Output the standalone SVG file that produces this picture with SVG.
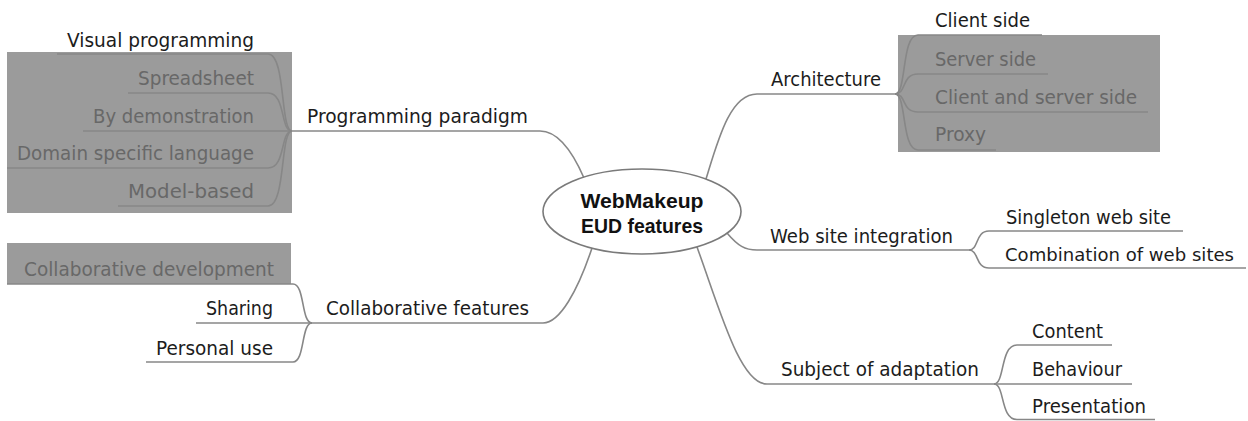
<svg xmlns="http://www.w3.org/2000/svg" width="1248" height="421" viewBox="0 0 1248 421">
<style>
.lbl{font-family:"DejaVu Sans","Liberation Sans",sans-serif;font-size:20px;fill:#1c1c1c}
.dim{fill:#686868}
.box{fill:#9b9b9b}
.ln{fill:none;stroke:#878787;stroke-width:1.6}
.root{font-family:"Liberation Sans",Arial,sans-serif;font-size:21px;font-weight:bold;fill:#111}
</style>
<rect width="1248" height="421" fill="#fff"/>
<g id="folds">
<rect class="box" x="7" y="52" width="285" height="161"/>
<rect class="box" x="898" y="35" width="262" height="117"/>
<rect class="box" x="7" y="243" width="284" height="41"/>
</g>
<g id="connectors">
<path class="ln" d="M584 178 C574 155 560 131 540 131"/>
<path class="ln" d="M706 179 C718 140 730 94 757 94"/>
<path class="ln" d="M727 233 C738 246 745 250 757 250"/>
<path class="ln" d="M697 247 C720 310 740 384 767 384"/>
<path class="ln" d="M592 248 C578 290 560 323 543 323"/>
<path class="ln" d="M292 131 C280 131 286 54 268 54"/>
<path class="ln" d="M292 131 C280 131 286 93 268 93"/>
<path class="ln" d="M292 131 C280 131 286 168 268 168"/>
<path class="ln" d="M292 131 C280 131 286 206 268 206"/>
<path class="ln" d="M895 94 C907 94 901 35 918 35"/>
<path class="ln" d="M895 94 C907 94 901 74 918 74"/>
<path class="ln" d="M895 94 C907 94 901 112 918 112"/>
<path class="ln" d="M895 94 C907 94 901 150 918 150"/>
<path class="ln" d="M969 250 C979 250 975 231 989 231"/>
<path class="ln" d="M969 250 C979 250 975 268 989 268"/>
<path class="ln" d="M994 384 C1005 384 1000 345 1017 345"/>
<path class="ln" d="M994 384 C1005 384 1000 419.5 1017 419.5"/>
<path class="ln" d="M312 323 C301 323 305 284 293 284"/>
<path class="ln" d="M312 323 C301 323 305 362 293 362"/>
</g>
<g id="root">
<ellipse cx="642" cy="211.5" rx="99" ry="42.5" fill="#fff" stroke="#7a7a7a" stroke-width="1.6"/>
<text class="root" x="642" y="208" text-anchor="middle" textLength="123" lengthAdjust="spacingAndGlyphs">WebMakeup</text>
<text class="root" x="642" y="233" text-anchor="middle" textLength="122" lengthAdjust="spacingAndGlyphs">EUD features</text>
</g>
<g id="programming-paradigm">
<path class="ln" d="M292 131 H540"/>
<text class="lbl" x="307" y="123" textLength="221" lengthAdjust="spacingAndGlyphs">Programming paradigm</text>
</g>
<g id="visual-programming">
<path class="ln" d="M57 54 H268"/>
<text class="lbl" x="67" y="47" textLength="187" lengthAdjust="spacingAndGlyphs">Visual programming</text>
</g>
<g id="spreadsheet">
<path class="ln" d="M128 93 H268"/>
<text class="lbl dim" x="138" y="85" textLength="116" lengthAdjust="spacingAndGlyphs">Spreadsheet</text>
</g>
<g id="by-demonstration">
<path class="ln" d="M83 131 H292"/>
<text class="lbl dim" x="93" y="123" textLength="161" lengthAdjust="spacingAndGlyphs">By demonstration</text>
</g>
<g id="domain-specific-language">
<path class="ln" d="M7 168 H268"/>
<text class="lbl dim" x="17" y="160" textLength="237" lengthAdjust="spacingAndGlyphs">Domain specific language</text>
</g>
<g id="model-based">
<path class="ln" d="M118 206 H268"/>
<text class="lbl dim" x="128" y="198" textLength="126" lengthAdjust="spacingAndGlyphs">Model-based</text>
</g>
<g id="architecture">
<path class="ln" d="M757 94 H895"/>
<text class="lbl" x="771" y="86" textLength="110" lengthAdjust="spacingAndGlyphs">Architecture</text>
</g>
<g id="client-side">
<path class="ln" d="M918 35 H1042"/>
<text class="lbl" x="935" y="27" textLength="95" lengthAdjust="spacingAndGlyphs">Client side</text>
</g>
<g id="server-side">
<path class="ln" d="M918 74 H1048"/>
<text class="lbl dim" x="935" y="66" textLength="101" lengthAdjust="spacingAndGlyphs">Server side</text>
</g>
<g id="client-and-server-side">
<path class="ln" d="M918 112 H1148"/>
<text class="lbl dim" x="935" y="104" textLength="202" lengthAdjust="spacingAndGlyphs">Client and server side</text>
</g>
<g id="proxy">
<path class="ln" d="M918 150 H996"/>
<text class="lbl dim" x="935" y="141" textLength="51" lengthAdjust="spacingAndGlyphs">Proxy</text>
</g>
<g id="web-site-integration">
<path class="ln" d="M757 250 H969"/>
<text class="lbl" x="770" y="243" textLength="183" lengthAdjust="spacingAndGlyphs">Web site integration</text>
</g>
<g id="singleton-web-site">
<path class="ln" d="M989 231 H1183"/>
<text class="lbl" x="1006" y="224" textLength="165" lengthAdjust="spacingAndGlyphs">Singleton web site</text>
</g>
<g id="combination-of-web-sites">
<path class="ln" d="M989 268 H1246"/>
<text class="lbl" x="1005" y="261" style="font-size:18.5px" textLength="229" lengthAdjust="spacingAndGlyphs">Combination of web sites</text>
</g>
<g id="subject-of-adaptation">
<path class="ln" d="M767 384 H994"/>
<text class="lbl" x="781" y="376" textLength="198" lengthAdjust="spacingAndGlyphs">Subject of adaptation</text>
</g>
<g id="content">
<path class="ln" d="M1017 345 H1112"/>
<text class="lbl" x="1032" y="338" textLength="71" lengthAdjust="spacingAndGlyphs">Content</text>
</g>
<g id="behaviour">
<path class="ln" d="M994 384 H1132"/>
<text class="lbl" x="1032" y="376" textLength="90" lengthAdjust="spacingAndGlyphs">Behaviour</text>
</g>
<g id="presentation">
<path class="ln" d="M1017 419.5 H1155"/>
<text class="lbl" x="1032" y="413" textLength="114" lengthAdjust="spacingAndGlyphs">Presentation</text>
</g>
<g id="collaborative-features">
<path class="ln" d="M312 323 H543"/>
<text class="lbl" x="326" y="315" textLength="203" lengthAdjust="spacingAndGlyphs">Collaborative features</text>
</g>
<g id="collaborative-development">
<path class="ln" d="M7 284 H293"/>
<text class="lbl dim" x="24" y="276" textLength="250" lengthAdjust="spacingAndGlyphs">Collaborative development</text>
</g>
<g id="sharing">
<path class="ln" d="M196 323 H312"/>
<text class="lbl" x="206" y="315" textLength="67" lengthAdjust="spacingAndGlyphs">Sharing</text>
</g>
<g id="personal-use">
<path class="ln" d="M146 362 H293"/>
<text class="lbl" x="156" y="355" textLength="117" lengthAdjust="spacingAndGlyphs">Personal use</text>
</g>
</svg>
